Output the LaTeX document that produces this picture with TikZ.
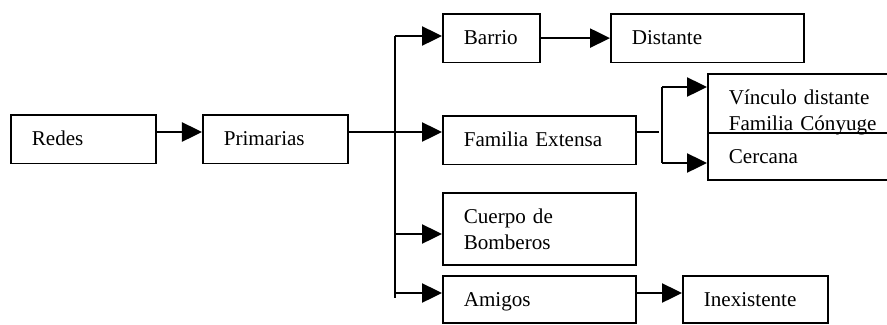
\documentclass[tikz,border=0pt]{standalone}
\usepackage{fontspec}
\setmainfont{Liberation Serif}
\usetikzlibrary{arrows.meta,positioning}

\tikzset{
	box/.style={draw, line width=1.2pt, anchor=north west, inner xsep=0.525cm, inner ysep=0pt,
		align=left, text height=0.7625cm, text depth=0.45cm},
	narrow/.style={text width=1.375cm},
	short/.style={text width=2.575cm},
	long/.style={text width=3.775cm},
	link/.style={line width=1.2pt},
	arr/.style={link, -{Triangle[length=0.5cm,width=0.48cm]}}
}

\begin{document}
\begin{tikzpicture}[x=0.025cm, y=-0.025cm, font=\fontsize{15}{18.4}\selectfont]
	\clip (0,0) rectangle (887,324);
	% boxes
	\node[box,short] (redes) at (10,114) {Redes};
	\node[box,short] (prim) at (202,114) {Primarias};
	\node[box,narrow] (barrio) at (442,13) {Barrio};
	\node[box,long] (dist) at (610,13) {Distante};
	\node[box,long] (fam) at (442,115) {Familia Extensa};
	\node[box,long,text depth=0.7125cm] (vinc) at (707,73) {Vínculo distante\\Familia Cónyuge};
	\node[box,long,text depth=0.4125cm] (cerc) at (707,132) {Cercana};
	\node[box,long,text depth=1.0375cm] (cuerpo) at (442,192) {Cuerpo de\\Bomberos};
	\node[box,long,text depth=0.4125cm] (amigos) at (442,275) {Amigos};
	\node[box,short,text depth=0.4125cm] (inex) at (682,275) {Inexistente};
	% junctions
	\coordinate (trk) at (395,36);
	\coordinate (trkend) at (395,298);
	\coordinate (jfam) at (395,132);
	\coordinate (jcue) at (395,234);
	\coordinate (jami) at (395,293);
	\coordinate (fk) at (662,87);
	\coordinate (fkend) at (662,163);
	\coordinate (fkmid) at (659,132);
	% connectors
	\draw[arr] (redes.east |- jfam) -- (prim.west |- jfam);
	\draw[link] (prim.east |- jfam) -- (jfam);
	\draw[link] (trk) -- (trkend);
	\draw[arr] (trk) -- (trk -| barrio.west);
	\draw[arr] (jfam) -- (jfam -| fam.west);
	\draw[arr] (jcue) -- (jcue -| cuerpo.west);
	\draw[arr] (jami) -- (jami -| amigos.west);
	\draw[arr] (barrio.east) -- (dist.west);
	\draw[link] (fam.east |- fkmid) -- (fkmid);
	\draw[link] (fk) -- (fkend);
	\draw[arr] (fk) -- (fk -| vinc.west);
	\draw[arr] (fkend) -- (fkend -| cerc.west);
	\draw[arr] (amigos.east |- jami) -- (inex.west |- jami);
\end{tikzpicture}
\end{document}
